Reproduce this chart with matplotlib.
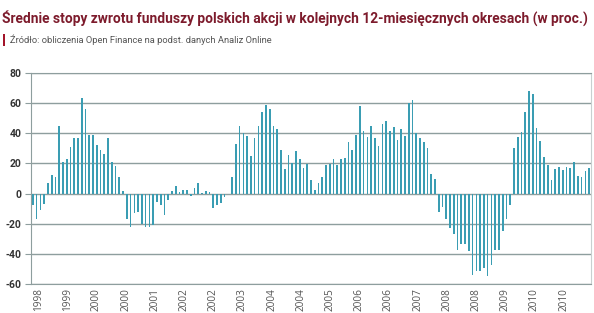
"""Średnie stopy zwrotu funduszy polskich akcji - wykres słupkowy."""

import matplotlib

matplotlib.use("Agg")
import matplotlib.pyplot as plt
import numpy as np
from matplotlib.patches import Rectangle

# 12-miesięczne stopy zwrotu (w proc.), kolejne miesiące
returns = [
    -7.8, -16.7, -11, -6.7, 7, 12, 10.7, 45, 21, 22.7, 30.7, 36.7, 36.7, 63.3,
    56, 39, 39, 32, 29, 26, 37, 21, 18, 10.7, 1.5, -16.7, -22, -13, -12, -20,
    -22, -22, -21, -5.5, -7.8, -14, -4.4, 1.8, 5, 1, 2.2, 2.7, -1.8, 4, 7, 0.4,
    1.8, 1, -9.3, -7.8, -6.2, -2, 0, 10.7, 33, 45, 40.4, 38, 25, 37, 45, 54, 59,
    56, 45, 42.7, 29, 16, 25.5, 20, 28, 23, 17, 19.5, 9.3, 2.7, 7.3, 11, 19,
    19.5, 23, 19, 22.7, 23.8, 34, 29, 39, 58, 41.8, 37.8, 45, 37, 31.8, 46, 48,
    41.8, 44, 35.6, 43, 38, 60.4, 62, 40.4, 37, 34.4, 30.4, 13, 10, -12, -8.8,
    -16.6, -22.6, -27, -37.7, -33.7, -33.2, -38.3, -53.7, -51.4, -51.4, -49.2,
    -54.6, -47.7, -37.7, -37.2, -25, -17.2, -7.7, 30, 37.3, 40.7, 54.4, 67.8,
    66, 43.8, 35, 24.4, 19, 9.3, 16, 17.8, 15.6, 17.8, 16.7, 21, 11.6, 11, 15,
    16.7,
]

year_labels = [
    "1998", "1999", "2000", "2000", "2001", "2002", "2002", "2003", "2004",
    "2004", "2005", "2006", "2006", "2007", "2008", "2008", "2009", "2010",
    "2010",
]

y_ticks = [-60, -40, -20, 0, 20, 40, 60, 80]

title = ("Średnie stopy zwrotu funduszy polskich akcji w kolejnych "
         "12-miesięcznych okresach (w proc.)")
source = "Źródło: obliczenia Open Finance na podst. danych Analiz Online"

BAR = "#3a9db3"
GRID = "#8e9e9e"
FONT = ["Roboto", "DejaVu Sans"]

fig = plt.figure(figsize=(5.94, 3.13), dpi=100)
ax = fig.add_axes([31 / 594, 1 - 284 / 313, 560 / 594, 211 / 313])

idx = np.arange(len(returns))
ax.bar(idx, returns, width=0.45, color=BAR, zorder=3)

ax.set_xlim(-0.5, len(returns) - 0.5)
ax.set_ylim(-60, 80)
ax.set_yticks(y_ticks)
ax.set_yticklabels([str(v) for v in y_ticks], fontsize=7.5, fontweight="bold",
                   color="#333333", family=FONT)
ax.yaxis.grid(True, color=GRID, lw=1.0, zorder=1)
ax.tick_params(axis="y", length=4, color=GRID, pad=3)

pos = np.linspace(1.4, 141.2, len(year_labels))
ax.set_xticks(pos)
ax.set_xticklabels(year_labels, rotation=90, fontsize=7.2, color="#555555",
                   family=["Open Sans", "DejaVu Sans"])
ax.tick_params(axis="x", length=0, pad=3)

for side in ("left", "bottom", "top"):
    ax.spines[side].set_color(GRID)
ax.spines["right"].set_color("#c8d0d0")

fig.text(0.004, 1 - 18 / 313, title, fontsize=9.9, fontweight="bold",
         color="#7d1b2c", va="center", family=FONT)
fig.add_artist(Rectangle((3 / 594, 1 - 46 / 313), 2 / 594, 12 / 313,
                         transform=fig.transFigure, color="#a3142a", lw=0))
fig.text(10 / 594, 1 - 40 / 313, source, fontsize=6.75, color="#555555",
         va="center", family=FONT)

fig.savefig("out.png", dpi=100)
plt.close(fig)
